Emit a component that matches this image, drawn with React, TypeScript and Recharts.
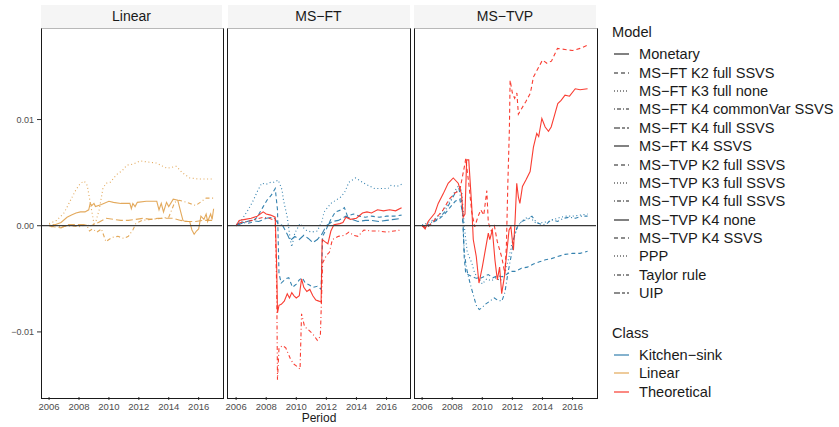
import React from "react";
import { LineChart, Line, XAxis, YAxis, ReferenceLine } from "recharts";

// facets and legend entries
const panels = ["Linear", "MS\u2212FT", "MS\u2212TVP"];
const yearTicks = [2006, 2008, 2010, 2012, 2014, 2016];
const valueTicks = [-0.01, 0, 0.01];
const modelNames = [
  "Monetary",
  "MS\u2212FT K2 full SSVS",
  "MS\u2212FT K3 full none",
  "MS\u2212FT K4 commonVar SSVS",
  "MS\u2212FT K4 full SSVS",
  "MS\u2212FT K4 SSVS",
  "MS\u2212TVP K2 full SSVS",
  "MS\u2212TVP K3 full SSVS",
  "MS\u2212TVP K4 full SSVS",
  "MS\u2212TVP K4 none",
  "MS\u2212TVP K4 SSVS",
  "PPP",
  "Taylor rule",
  "UIP",
];
const classNames = ["Kitchen\u2212sink", "Linear", "Theoretical"];

// Linear panel
const linMonetary = [
  [2006.0, 0], [2006.2, -0.0001], [2006.4, 0.0001], [2006.8, 0.0003], [2007.2, 0.0008],
  [2007.5, 0.001], [2007.8, 0.0012], [2008.1, 0.0013], [2008.4, 0.0013], [2008.65, 0.0015],
  [2008.75, 0.0021], [2008.85, 0.0019], [2009.0, 0.0021], [2009.1, 0.0018], [2009.5, 0.002],
  [2010.0, 0.0023], [2010.3, 0.0022], [2010.8, 0.0021], [2011.4, 0.0021], [2011.5, 0.0016],
  [2011.6, 0.0021], [2011.75, 0.0018], [2011.9, 0.0022], [2012.5, 0.0023], [2013.2, 0.0023],
  [2013.35, 0.0015], [2013.5, 0.0021], [2013.65, 0.0013], [2013.85, 0.0022], [2014.0, 0.0018],
  [2014.3, 0.0025], [2014.6, 0.0024], [2014.8, 0.0013], [2014.95, 0.0005], [2015.1, 0.0004],
  [2015.4, 0.0004], [2015.55, -0.0004], [2015.7, -0.0008], [2015.85, -0.0005], [2016.0, -0.0003],
  [2016.15, 0.0009], [2016.35, 0.0006], [2016.5, 0.0011], [2016.6, 0.0004], [2016.8, 0.0011],
  [2016.9, 0.0006], [2017.0, 0.0016],
];
const linPPP = [
  [2006.0, 0.0002], [2006.5, 0.0005], [2007.0, 0.0012], [2007.4, 0.0023], [2007.8, 0.0034],
  [2008.1, 0.004], [2008.35, 0.0042], [2008.55, 0.0038], [2008.8, 0.0018], [2009.0, 0.0002],
  [2009.15, 0.0005], [2009.35, 0.0015], [2009.6, 0.0035], [2009.8, 0.004], [2010.1, 0.0041],
  [2010.5, 0.0048], [2010.9, 0.0052], [2011.2, 0.0057], [2011.6, 0.0058], [2012.1, 0.0061],
  [2012.6, 0.006], [2013.2, 0.0059], [2013.6, 0.0056], [2013.9, 0.0054], [2014.5, 0.0056],
  [2014.9, 0.005], [2015.4, 0.0045], [2016.0, 0.0044], [2016.5, 0.0044], [2017.0, 0.0044],
];
const linTaylor = [
  [2006.0, 0], [2006.3, 0.0001], [2006.8, -0.0001], [2007.5, 0], [2008.0, -0.0001],
  [2008.5, 0.0001], [2008.7, -0.0005], [2008.9, -0.0003], [2009.2, -0.0006], [2009.5, -0.0003],
  [2009.8, -0.0015], [2010.2, -0.0011], [2010.6, -0.001], [2011.0, -0.0012], [2011.3, -0.001],
  [2011.6, -0.0004], [2011.8, 0.0002], [2012.2, 0.0005], [2012.8, 0.0006], [2013.5, 0.0007],
  [2014.0, 0.0008], [2014.4, 0.0022], [2014.7, 0.0024], [2015.2, 0.0022], [2015.8, 0.0019],
  [2016.2, 0.0023], [2016.5, 0.0026], [2017.0, 0.0026],
];
const linUIP = [
  [2006.0, 0.0001], [2006.3, -0.0001], [2006.8, -0.0002], [2007.3, 0.0001], [2007.8, 0.0001],
  [2008.3, 0.0001], [2008.8, 0], [2009.3, 0.0003], [2009.8, 0.0007], [2010.3, 0.0006],
  [2010.8, 0.0005], [2011.3, 0.0005], [2011.8, 0.0006], [2012.3, 0.0007], [2012.8, 0.0006],
  [2013.3, 0.0007], [2013.8, 0.0007], [2014.3, 0.0007], [2014.8, 0.0005], [2015.3, 0.0004],
  [2015.8, 0.0004], [2016.3, 0.0005], [2016.8, 0.0005], [2017.0, 0.0005],
];

// MS-FT panel
const ftK2full = [
  [2006.0, 0], [2006.3, 0.0004], [2006.7, 0.0002], [2007.0, 0.0003], [2007.4, 0.0008],
  [2007.8, 0.0018], [2008.05, 0.0024], [2008.35, 0.0029], [2008.6, 0.0035], [2008.75, 0.0015],
  [2008.85, -0.0045], [2009.0, -0.0054], [2009.3, -0.005], [2009.5, -0.0049], [2009.75, -0.0058],
  [2010.0, -0.0055], [2010.2, -0.0051], [2010.4, -0.0049], [2010.6, -0.0054], [2010.9, -0.0056],
  [2011.1, -0.0058], [2011.4, -0.0057], [2011.65, -0.006], [2011.75, -0.001], [2012.0, -0.0003],
  [2012.3, 0.0006], [2012.6, 0.0013], [2013.0, 0.0015], [2013.2, 0.0017], [2013.4, 0.0009],
  [2013.8, 0.0011], [2014.2, 0.0009], [2014.6, 0.0008], [2015.0, 0.0009], [2015.5, 0.0008],
  [2016.0, 0.0009], [2016.5, 0.0009], [2017.0, 0.001],
];
const ftK3none = [
  [2006.0, 0.0001], [2006.4, 0.0006], [2006.8, 0.0015], [2007.15, 0.0024], [2007.4, 0.0032],
  [2007.7, 0.004], [2008.0, 0.0039], [2008.3, 0.0041], [2008.5, 0.0041], [2008.8, 0.0043],
  [2009.05, 0.0034], [2009.15, 0.0024], [2009.4, 0.0008], [2009.6, -0.0013], [2009.7, -0.002],
  [2009.9, -0.0007], [2010.25, 0.0002], [2010.6, -0.0004], [2011.0, -0.0006], [2011.4, -0.0005],
  [2011.7, 0.0004], [2011.85, 0.0013], [2012.3, 0.0021], [2012.95, 0.0027], [2013.2, 0.0031],
  [2013.5, 0.0041], [2013.95, 0.0045], [2014.5, 0.004], [2015.2, 0.0035], [2015.6, 0.0035],
  [2016.1, 0.0035], [2016.3, 0.0038], [2016.7, 0.0037], [2017.0, 0.0039],
];
const ftK4cv = [
  [2006.0, 0], [2006.3, 0.0003], [2006.8, 0.0004], [2007.3, 0.0006], [2007.8, 0.0008],
  [2008.2, 0.0007], [2008.6, 0.0005], [2008.7, -0.006], [2008.75, -0.0145], [2008.85, -0.0115],
  [2009.1, -0.0113], [2009.3, -0.0115], [2009.6, -0.0125], [2009.8, -0.013], [2010.0, -0.0132],
  [2010.25, -0.0135], [2010.35, -0.0083], [2010.55, -0.0095], [2010.8, -0.0098], [2011.1, -0.0102],
  [2011.4, -0.0108], [2011.6, -0.0104], [2011.75, -0.0035], [2012.0, -0.0028], [2012.2, -0.0025],
  [2012.4, -0.0013], [2012.8, -0.001], [2013.2, -0.0009], [2013.5, -0.0006], [2013.8, -0.0009],
  [2014.1, -0.001], [2014.5, -0.0004], [2015.0, -0.0005], [2015.5, -0.0005], [2016.0, -0.0006],
  [2016.5, -0.0005], [2017.0, -0.0004],
];
const ftK4full = [
  [2006.0, 0], [2006.5, 0.0003], [2007.0, 0.0005], [2007.5, 0.0004], [2008.0, 0.0007],
  [2008.5, 0.0008], [2008.8, 0.0002], [2009.1, 0], [2009.4, -0.0008], [2009.6, -0.0014],
  [2009.9, -0.001], [2010.2, -0.0013], [2010.5, -0.0009], [2010.8, -0.0012], [2011.1, -0.0016],
  [2011.4, -0.0013], [2011.7, -0.0008], [2012.0, 0], [2012.4, 0.0004], [2012.8, 0.0005],
  [2013.3, 0.0009], [2013.7, 0.0006], [2014.1, 0.0004], [2014.6, 0.0005], [2015.0, 0.0005],
  [2015.5, 0.0004], [2016.0, 0.0005], [2016.5, 0.0006], [2017.0, 0.0007],
];
const ftK4ssvs = [
  [2006.0, 0], [2006.2, 0.0005], [2006.6, 0.0006], [2007.0, 0.0007], [2007.4, 0.0009],
  [2007.8, 0.0013], [2008.0, 0.0011], [2008.3, 0.001], [2008.6, 0.0008], [2008.7, -0.004],
  [2008.75, -0.0082], [2008.85, -0.0075], [2009.0, -0.0074], [2009.2, -0.0071], [2009.4, -0.0064],
  [2009.55, -0.0068], [2009.7, -0.0063], [2009.85, -0.0066], [2010.0, -0.0068], [2010.2, -0.0066],
  [2010.35, -0.005], [2010.5, -0.0058], [2010.7, -0.0062], [2010.9, -0.006], [2011.1, -0.0066],
  [2011.3, -0.007], [2011.5, -0.0071], [2011.65, -0.0072], [2011.72, -0.0013], [2011.9, -0.0015],
  [2012.1, -0.0017], [2012.3, -0.0005], [2012.5, 0.0001], [2012.9, 0.0002], [2013.1, 0.0003],
  [2013.3, 0.0008], [2013.6, 0.0006], [2014.0, 0.0007], [2014.4, 0.0012], [2014.7, 0.0013],
  [2015.0, 0.0012], [2015.4, 0.0015], [2015.8, 0.0014], [2016.2, 0.0015], [2016.6, 0.0014],
  [2017.0, 0.0017],
];

// MS-TVP panel
const tvpK2full = [
  [2006.0, 0], [2006.3, -0.0002], [2006.7, 0.0003], [2007.1, 0.0006], [2007.5, 0.0011],
  [2007.9, 0.0018], [2008.2, 0.0023], [2008.5, 0.0025], [2008.7, 0.0012], [2008.8, -0.003],
  [2008.9, -0.0045], [2009.2, -0.0047], [2009.5, -0.0049], [2009.8, -0.005], [2010.1, -0.0048],
  [2010.4, -0.0046], [2010.7, -0.0049], [2011.0, -0.0047], [2011.3, -0.0048], [2011.6, -0.0046],
  [2011.9, -0.0043], [2012.2, -0.0043], [2012.6, -0.004], [2013.0, -0.0039], [2013.4, -0.0036],
  [2013.8, -0.0034], [2014.2, -0.0032], [2014.6, -0.0031], [2015.0, -0.0029], [2015.5, -0.0027],
  [2016.0, -0.0026], [2016.5, -0.0026], [2017.0, -0.0024],
];
const tvpK3full = [
  [2006.0, 0], [2006.4, 0.0003], [2006.8, 0.0006], [2007.2, 0.0011], [2007.6, 0.0018],
  [2008.0, 0.0027], [2008.3, 0.0036], [2008.5, 0.0038], [2008.65, 0.003], [2008.8, 0],
  [2009.0, -0.0025], [2009.3, -0.0035], [2009.5, -0.0045], [2009.8, -0.005], [2010.0, -0.0055],
  [2010.3, -0.005], [2010.6, -0.0052], [2010.9, -0.0049], [2011.2, -0.0052], [2011.5, -0.0045],
  [2011.8, -0.0028], [2012.0, -0.0015], [2012.3, -0.0003], [2012.6, 0.0004], [2013.0, 0.0008],
  [2013.3, 0.0006], [2013.6, 0.0002], [2014.0, 0.0003], [2014.4, 0.0004], [2014.8, 0.0006],
  [2015.2, 0.0008], [2015.6, 0.0009], [2016.0, 0.0009], [2016.5, 0.001], [2017.0, 0.0011],
];
const tvpK4full = [
  [2006.0, 0.0001], [2006.3, 0], [2006.7, 0.0004], [2007.1, 0.0007], [2007.5, 0.0013],
  [2007.9, 0.0023], [2008.2, 0.0031], [2008.45, 0.0035], [2008.65, 0.002], [2008.8, -0.0025],
  [2008.95, -0.004], [2009.2, -0.0055], [2009.4, -0.0065], [2009.6, -0.0075], [2009.8, -0.0079],
  [2010.0, -0.0077], [2010.2, -0.0074], [2010.5, -0.0071], [2010.8, -0.0068], [2011.0, -0.007],
  [2011.3, -0.0071], [2011.5, -0.0063], [2011.7, -0.0045], [2011.9, -0.003], [2012.1, -0.0012],
  [2012.3, -0.0002], [2012.6, 0.0004], [2013.0, 0.0006], [2013.3, 0.0009], [2013.6, 0.0003],
  [2014.0, 0.0001], [2014.3, 0.0002], [2014.6, 0.0006], [2015.0, 0.0004], [2015.4, 0.0007],
  [2015.8, 0.0008], [2016.2, 0.0007], [2016.6, 0.0009], [2017.0, 0.0009],
];
const tvpK4none = [
  [2006.0, 0], [2006.2, -0.0003], [2006.4, 0.0004], [2006.85, 0.0012], [2007.07, 0.0021],
  [2007.4, 0.003], [2007.73, 0.004], [2008.07, 0.0045], [2008.4, 0.004], [2008.62, 0.003],
  [2008.73, 0.0008], [2008.85, 0.0011], [2008.96, 0.0062], [2009.1, 0.0062], [2009.3, 0.0018],
  [2009.4, -0.0013], [2009.6, -0.0029], [2009.78, -0.0054], [2010.0, -0.0039], [2010.2, -0.0023],
  [2010.4, -0.0007], [2010.5, -0.0013], [2010.67, -0.0004], [2010.84, -0.0032], [2011.0, -0.0051],
  [2011.15, -0.0039], [2011.29, -0.0064], [2011.47, -0.0048], [2011.62, -0.0026], [2011.78, -0.0004],
  [2011.9, -0.0001], [2012.07, -0.0023], [2012.18, 0.0005], [2012.29, 0.004], [2012.4, 0.0027],
  [2012.5, 0.0021], [2012.67, 0.0037], [2012.9, 0.0043], [2013.18, 0.0051], [2013.4, 0.0074],
  [2013.62, 0.0087], [2013.75, 0.0084], [2013.96, 0.0101], [2014.18, 0.0093], [2014.4, 0.0089],
  [2014.58, 0.0093], [2014.8, 0.0104], [2015.02, 0.0115], [2015.24, 0.0118], [2015.5, 0.0123],
  [2015.8, 0.0122], [2016.18, 0.0129], [2016.5, 0.0128], [2017.0, 0.0129],
];
const tvpK4ssvs = [
  [2006.0, 0], [2006.3, -0.0002], [2006.8, 0.0005], [2007.4, 0.0015], [2007.8, 0.0025],
  [2008.2, 0.0031], [2008.5, 0.0033], [2008.8, 0.0055], [2008.9, 0.0063], [2009.1, 0.004],
  [2009.3, 0.0013], [2009.5, -0.0001], [2009.7, 0.0008], [2009.9, 0.0015], [2010.1, 0.001],
  [2010.3, 0.0033], [2010.4, 0.0003], [2010.6, -0.0005], [2010.8, 0], [2011.0, -0.0015],
  [2011.3, -0.003], [2011.5, -0.0045], [2011.6, -0.002], [2011.7, 0.004], [2011.8, 0.009],
  [2011.85, 0.0137], [2012.0, 0.0125], [2012.15, 0.012], [2012.3, 0.0125], [2012.4, 0.0105],
  [2012.6, 0.011], [2012.9, 0.0117], [2013.2, 0.0125], [2013.4, 0.014], [2013.7, 0.0148],
  [2014.0, 0.0156], [2014.3, 0.0153], [2014.6, 0.0155], [2015.0, 0.0167], [2015.5, 0.0166],
  [2016.0, 0.0165], [2016.5, 0.0167], [2017.0, 0.017],
];

const classColor: Record<string, string> = {
  ks: "#1f74a6",
  lin: "#e0a04a",
  th: "#f8281c",
};
const dashes: Record<string, string | undefined> = {
  solid: undefined,
  dashed: "4 3",
  dotted: "1 2.6",
  dotdash: "1 2.6 4 2.6",
  longdash: "7 3",
};
const modelDash = [
  "solid", "dashed", "dotted", "dotdash", "longdash", "solid", "dashed",
  "dotted", "dotdash", "solid", "dashed", "dotted", "dotdash", "longdash",
];
const legendDash: Record<string, string | undefined> = {
  solid: undefined,
  dashed: "4 3",
  dotted: "1 2",
  dotdash: "1 2 4 2",
  longdash: "6 2 3 2",
};

const pts = (a: number[][]) => a.map(([t, v]) => ({ t, v }));

const panelSeries = [
  [
    { d: linMonetary, c: "lin", ls: "solid" },
    { d: linPPP, c: "lin", ls: "dotted" },
    { d: linTaylor, c: "lin", ls: "dotdash" },
    { d: linUIP, c: "lin", ls: "longdash" },
  ],
  [
    { d: ftK2full, c: "ks", ls: "dashed" },
    { d: ftK3none, c: "ks", ls: "dotted" },
    { d: ftK4full, c: "ks", ls: "longdash" },
    { d: ftK4cv, c: "th", ls: "dotdash" },
    { d: ftK4ssvs, c: "th", ls: "solid" },
  ],
  [
    { d: tvpK2full, c: "ks", ls: "dashed" },
    { d: tvpK3full, c: "ks", ls: "dotted" },
    { d: tvpK4full, c: "ks", ls: "dotdash" },
    { d: tvpK4ssvs, c: "th", ls: "dashed" },
    { d: tvpK4none, c: "th", ls: "solid" },
  ],
];

const FONT = '"Liberation Sans", Arial, Helvetica, sans-serif';
const PANEL_TOP = 28;
const PANEL_H = 369;
const X_AXIS_H = 20;
const Y_AXIS_W = 41;
const SIDE = 14; // room for tick labels that hang past a panel edge
const panelLeft = [41, 227.5, 414];
const panelW = [181, 182, 182];
const xDomain = [2005.46, 2017.56];
const yDomain = [-0.01613, 0.01862];

const fmtY = (v: number) =>
  v === 0 ? "0.00" : v < 0 ? "\u2212" + Math.abs(v).toFixed(2) : v.toFixed(2);

function Panel({ idx }: { idx: number }) {
  const withY = idx === 0;
  const left = withY ? panelLeft[idx] - Y_AXIS_W : panelLeft[idx] - SIDE;
  const width = panelW[idx] + (withY ? Y_AXIS_W : SIDE) + SIDE;
  return (
    <>
      <div
        style={{
          position: "absolute",
          left: panelLeft[idx],
          top: 5,
          width: panelW[idx],
          height: 23,
          background: "#f5f5f5",
          color: "#1a1a1a",
          fontSize: 14,
          lineHeight: "23px",
          textAlign: "center",
        }}
      >
        {panels[idx]}
      </div>
      <div style={{ position: "absolute", left, top: PANEL_TOP }}>
        <LineChart
          width={width}
          height={PANEL_H + X_AXIS_H}
          margin={{ top: 0, right: SIDE, bottom: 0, left: withY ? 0 : SIDE }}
        >
          <XAxis
            dataKey="t"
            type="number"
            domain={xDomain}
            ticks={yearTicks}
            allowDataOverflow
            axisLine={false}
            tickSize={3}
            tickMargin={3}
            height={X_AXIS_H}
            tickLine={{ stroke: "#333333" }}
            tick={{ fontSize: 9.5, fill: "#4d4d4d", fontFamily: FONT }}
            interval={0}
          />
          <YAxis
            type="number"
            domain={yDomain}
            ticks={valueTicks}
            allowDataOverflow
            hide={!withY}
            width={Y_AXIS_W}
            axisLine={false}
            tickSize={4}
            tickMargin={3}
            tickLine={{ stroke: "#333333" }}
            tick={{ fontSize: 9, fill: "#4d4d4d", fontFamily: FONT }}
            tickFormatter={fmtY}
            interval={0}
          />
          {panelSeries[idx].map((s, i) => (
            <Line
              key={i}
              data={pts(s.d)}
              dataKey="v"
              type="linear"
              stroke={classColor[s.c]}
              strokeOpacity={0.9}
              strokeWidth={1.1}
              strokeDasharray={dashes[s.ls]}
              dot={false}
              activeDot={false}
              isAnimationActive={false}
            />
          ))}
          <ReferenceLine y={0} stroke="#3a3a3a" strokeWidth={1.3} />
        </LineChart>
      </div>
      <div
        style={{
          position: "absolute",
          left: panelLeft[idx] - 0.5,
          top: PANEL_TOP - 0.5,
          width: panelW[idx],
          height: PANEL_H,
          borderLeft: "1px solid #1a1a1a",
          borderRight: "1px solid #1a1a1a",
          borderBottom: "1px solid #1a1a1a",
          borderTop: "1px solid #b8b8b8",
          pointerEvents: "none",
        }}
      />
    </>
  );
}

function LegendKey({ color, dash }: { color: string; dash?: string }) {
  return (
    <svg width={17} height={18} style={{ position: "absolute", left: 0, top: 0 }}>
      <line x1={1} x2={16} y1={9} y2={9} stroke={color} strokeWidth={1.1} strokeDasharray={dash} />
    </svg>
  );
}

function LegendRow({ top, label, color, dash }: { top: number; label: string; color: string; dash?: string }) {
  return (
    <div style={{ position: "absolute", left: 613, top: top - 9, height: 18, width: 230 }}>
      <LegendKey color={color} dash={dash} />
      <div style={{ position: "absolute", left: 26, top: 0, lineHeight: "18px", fontSize: 14.6, color: "#1a1a1a", whiteSpace: "nowrap" }}>
        {label}
      </div>
    </div>
  );
}

export default function App() {
  const classKeys = ["ks", "lin", "th"];
  return (
    <div
      style={{
        position: "absolute",
        left: 0,
        top: 0,
        width: 839,
        height: 427,
        background: "#ffffff",
        fontFamily: FONT,
        overflow: "hidden",
      }}
    >
      {panels.map((_, i) => (
        <Panel key={i} idx={i} />
      ))}
      <div
        style={{
          position: "absolute",
          left: 41,
          width: 556,
          top: 412,
          textAlign: "center",
          fontSize: 12,
          color: "#1a1a1a",
          lineHeight: "13px",
        }}
      >
        Period
      </div>
      <div style={{ position: "absolute", left: 612, top: 23, fontSize: 14.6, lineHeight: "18px", color: "#1a1a1a" }}>
        Model
      </div>
      {modelNames.map((m, i) => (
        <LegendRow key={m} top={54.3 + i * 18.38} label={m} color="#1a1a1a" dash={legendDash[modelDash[i]]} />
      ))}
      <div style={{ position: "absolute", left: 612, top: 324, fontSize: 14.6, lineHeight: "18px", color: "#1a1a1a" }}>
        Class
      </div>
      {classNames.map((c, i) => (
        <LegendRow key={c} top={355 + i * 18.35} label={c} color={classColor[classKeys[i]]} />
      ))}
    </div>
  );
}
